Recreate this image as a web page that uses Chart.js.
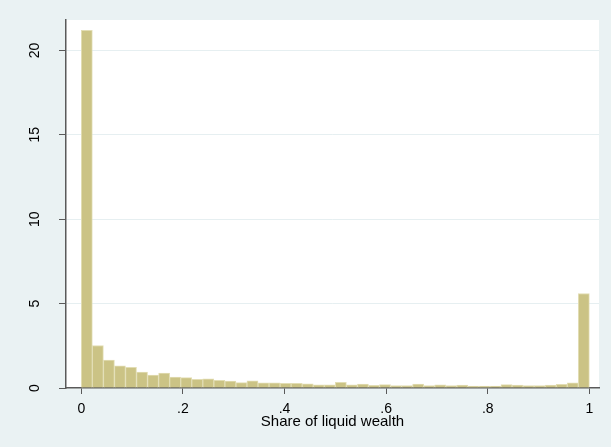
<!DOCTYPE html>
<html>
<head>
<meta charset="utf-8">
<script src="https://cdn.jsdelivr.net/npm/chart.js@4.4.1/dist/chart.umd.min.js"></script>
<style>
  html, body { margin: 0; padding: 0; background: #eaf2f3; }
  #wrap { width: 611px; height: 447px; }
</style>
</head>
<body>
<div id="wrap"><canvas id="c" width="611" height="447"></canvas></div>
<script>
// Histogram of the liquid share of wealth: 46 equal-width bins on [0, 1]
const binStart = 0;
const binWidth = 1 / 46;
const density = [
  21.19, 2.52, 1.65, 1.32, 1.22, 0.95, 0.77, 0.89, 0.65, 0.61,
  0.51, 0.55, 0.46, 0.41, 0.32, 0.43, 0.31, 0.30, 0.28, 0.28,
  0.25, 0.19, 0.19, 0.34, 0.19, 0.23, 0.16, 0.20, 0.15, 0.15,
  0.23, 0.15, 0.19, 0.15, 0.18, 0.11, 0.11, 0.12, 0.20, 0.17,
  0.15, 0.15, 0.17, 0.22, 0.31, 5.60
];
const xTicks = [0, 0.2, 0.4, 0.6, 0.8, 1];
const xTickLabels = ['0', '.2', '.4', '.6', '.8', '1'];
const yTicks = [0, 5, 10, 15, 20];
const xTitle = 'Share of liquid wealth';

const points = density.map((d, i) => ({ x: binStart + (i + 0.5) * binWidth, y: d }));

const FONT = 'Liberation Sans, Arial, Helvetica, sans-serif';
const axisColor = '#5a5a5a';

const backgrounds = {
  id: 'backgrounds',
  beforeDraw(chart) {
    const { ctx, chartArea: a } = chart;
    ctx.save();
    ctx.fillStyle = '#eaf2f3';
    ctx.fillRect(0, 0, chart.width, chart.height);
    ctx.fillStyle = '#ffffff';
    ctx.fillRect(a.left, a.top, a.right - a.left, a.bottom - a.top);
    ctx.restore();
  }
};

new Chart(document.getElementById('c'), {
  type: 'bar',
  data: {
    datasets: [{
      data: points,
      backgroundColor: '#cbc385',
      borderColor: '#e2ddb4',
      borderWidth: 1,
      barPercentage: 1,
      categoryPercentage: 1
    }]
  },
  options: {
    responsive: false,
    animation: false,
    devicePixelRatio: 1,
    layout: { padding: { top: 20, right: 12, left: 0, bottom: 0 } },
    plugins: { legend: { display: false }, tooltip: { enabled: false } },
    scales: {
      x: {
        type: 'linear',
        offset: false,
        min: -0.0301,
        max: 1.019,
        afterBuildTicks(scale) { scale.ticks = xTicks.map(v => ({ value: v })); },
        afterFit(scale) {
          scale.height = 59;
          scale.paddingLeft = 0;
          scale.paddingRight = 0;
        },
        ticks: {
          color: '#000',
          font: { family: FONT, size: 14 },
          padding: 7,
          maxRotation: 0,
          autoSkip: false,
          callback(value) {
            const i = xTicks.findIndex(t => Math.abs(t - value) < 1e-9);
            return i >= 0 ? xTickLabels[i] : '';
          }
        },
        grid: {
          offset: false,
          drawOnChartArea: false,
          drawTicks: true,
          tickLength: 6,
          tickColor: axisColor,
          tickWidth: 1
        },
        border: { display: true, color: axisColor, width: 1.5 },
        title: {
          display: true,
          text: xTitle,
          color: '#000',
          font: { family: FONT, size: 15 },
          padding: { top: 0, bottom: 16 }
        }
      },
      y: {
        type: 'linear',
        min: 0,
        max: 21.8,
        afterBuildTicks(scale) { scale.ticks = yTicks.map(v => ({ value: v })); },
        afterFit(scale) {
          scale.width = 66;
          scale.paddingTop = 0;
          scale.paddingBottom = 0;
        },
        ticks: {
          color: '#000',
          font: { family: FONT, size: 14 },
          minRotation: 90,
          maxRotation: 90,
          crossAlign: 'center',
          padding: 16,
          autoSkip: false
        },
        grid: {
          color: (ctx) => (ctx.tick && ctx.tick.value === 0 ? 'rgba(0,0,0,0)' : '#e6eff1'),
          lineWidth: 1,
          drawTicks: true,
          tickLength: 7,
          tickColor: axisColor,
          tickWidth: 1
        },
        border: { display: true, color: axisColor, width: 1.5 }
      }
    }
  },
  plugins: [backgrounds]
});
</script>
</body>
</html>
